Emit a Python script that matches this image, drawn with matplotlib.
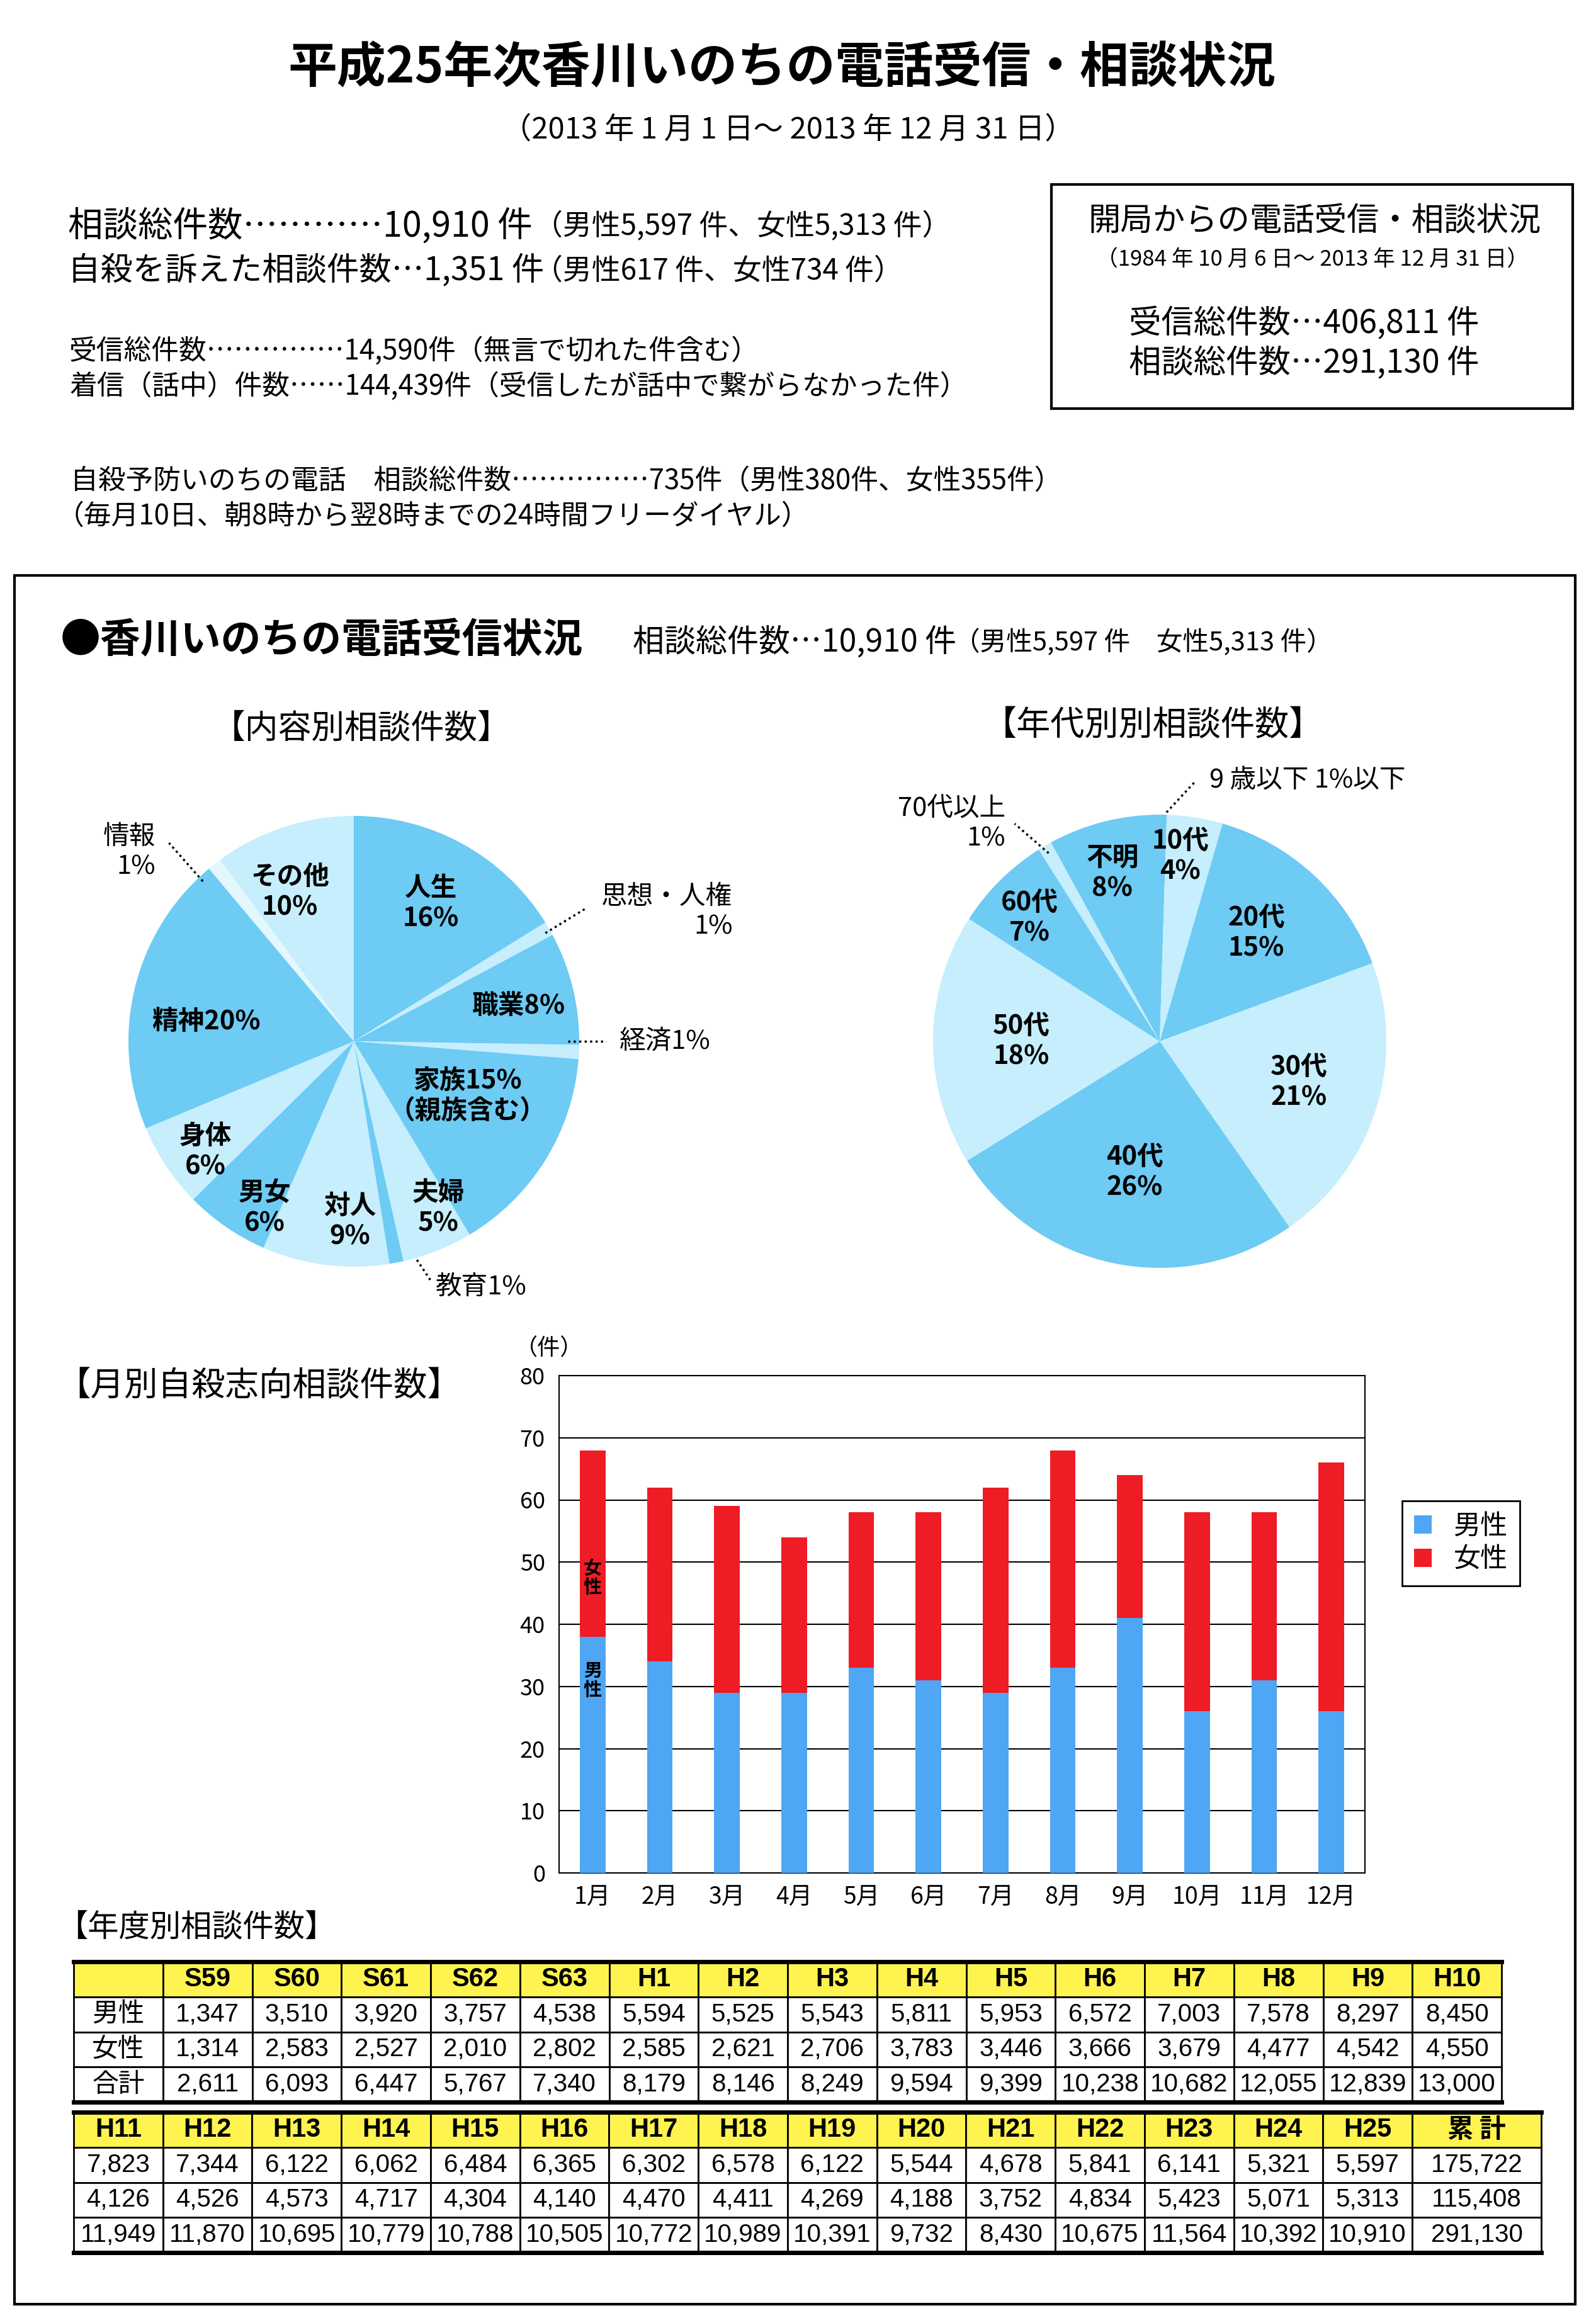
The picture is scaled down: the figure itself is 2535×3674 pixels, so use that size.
import matplotlib
matplotlib.use("Agg")
import matplotlib.pyplot as plt
import numpy as np
from matplotlib import font_manager
from matplotlib.patches import Rectangle
from matplotlib.lines import Line2D

# 画像サイズ（ピクセル）
W, H = 2535, 3674

# 日本語フォント
JP = ["Noto Sans CJK JP", "DejaVu Sans"]
plt.rcParams["font.family"] = JP
_names = {f.name for f in font_manager.fontManager.ttflist}
NARROW = ["Liberation Sans Narrow" if "Liberation Sans Narrow" in _names else "Liberation Sans"] + JP
ARIAL = ["Liberation Sans"] + JP

# ---- データ ----
# 内容別相談件数（％）
content_labels = ["人生", "思想・人権", "職業", "経済", "家族", "夫婦", "教育",
                  "対人", "男女", "身体", "精神", "情報", "その他"]
content_pct = [16, 1, 8, 1, 15, 5, 1, 9, 6, 6, 20, 1, 10]
content_texts = ["人生\n16%", "思想・人権\n1%", "職業8%", "経済1%", "家族15%\n（親族含む）",
                 "夫婦\n5%", "教育1%", "対人\n9%", "男女\n6%", "身体\n6%", "精神20%",
                 "情報\n1%", "その他\n10%"]

# 年代別相談件数（％）
age_labels = ["9歳以下", "10代", "20代", "30代", "40代", "50代", "60代", "70代以上", "不明"]
age_pct = [0.5, 4, 15, 21, 26, 18, 7, 1, 8]
age_texts = ["9 歳以下 1%以下", "10代\n4%", "20代\n15%", "30代\n21%", "40代\n26%",
             "50代\n18%", "60代\n7%", "70代以上\n1%", "不明\n8%"]

# 月別自殺志向相談件数
months = ["1月", "2月", "3月", "4月", "5月", "6月", "7月", "8月", "9月", "10月", "11月", "12月"]
male_month = [38, 34, 29, 29, 33, 31, 29, 33, 41, 26, 31, 26]
female_month = [30, 28, 30, 25, 25, 27, 33, 35, 23, 32, 27, 40]

# 年度別相談件数
years_1 = ["S59", "S60", "S61", "S62", "S63", "H1", "H2", "H3", "H4", "H5",
           "H6", "H7", "H8", "H9", "H10"]
male_1 = [1347, 3510, 3920, 3757, 4538, 5594, 5525, 5543, 5811, 5953, 6572, 7003, 7578, 8297, 8450]
female_1 = [1314, 2583, 2527, 2010, 2802, 2585, 2621, 2706, 3783, 3446, 3666, 3679, 4477, 4542, 4550]
total_1 = [2611, 6093, 6447, 5767, 7340, 8179, 8146, 8249, 9594, 9399, 10238, 10682, 12055, 12839, 13000]

years_2 = ["H11", "H12", "H13", "H14", "H15", "H16", "H17", "H18", "H19", "H20",
           "H21", "H22", "H23", "H24", "H25", "累 計"]
male_2 = [7823, 7344, 6122, 6062, 6484, 6365, 6302, 6578, 6122, 5544, 4678, 5841, 6141, 5321, 5597, 175722]
female_2 = [4126, 4526, 4573, 4717, 4304, 4140, 4470, 4411, 4269, 4188, 3752, 4834, 5423, 5071, 5313, 115408]
total_2 = [11949, 11870, 10695, 10779, 10788, 10505, 10772, 10989, 10391, 9732, 8430, 10675, 11564, 10392, 10910, 291130]

# 色
MID = "#6DCBF4"
LIGHT = "#C6EEFC"
PALE = "#E2F7FE"
BLUE = "#4EA6F4"
RED = "#EE1C25"
YELLOW = "#FFF44F"


def fx(x):
    return x / W


def fy(y):
    return 1 - y / H


def add_axes_px(fig, left, top, width, height):
    return fig.add_axes([left / W, 1 - (top + height) / H, width / W, height / H])


def text(fig, x, y, s, size, **kw):
    kw.setdefault("va", "center")
    kw.setdefault("ha", "left")
    fig.text(fx(x), fy(y), s, fontsize=size, **kw)


def frame(fig, left, top, right, bottom, lw):
    fig.add_artist(Rectangle((fx(left), fy(bottom)), (right - left) / W, (bottom - top) / H,
                             transform=fig.transFigure, fill=False, lw=lw, ec="black"))


def draw_pie(fig, cx, cy, r, values, colors, texts, inner, outer):
    ax = add_axes_px(fig, cx - r, cy - r, 2 * r, 2 * r)
    wedges, _ = ax.pie(values, colors=colors, startangle=90, counterclock=False,
                       radius=1, wedgeprops=dict(linewidth=0))
    ax.set_xlim(-1, 1)
    ax.set_ylim(-1, 1)
    ax.axis("off")
    for i, w in enumerate(wedges):
        mid = np.deg2rad((w.theta1 + w.theta2) / 2)
        if i in inner:
            rr, dth = inner[i]
            a = mid + np.deg2rad(dth)
            ax.text(rr * np.cos(a), rr * np.sin(a), texts[i], ha="center", va="center",
                    fontsize=30, fontweight="bold", linespacing=1.2)
        else:
            (x0, y0), (x1, y1), (tx, ty), ha = outer[i]
            ax.add_line(Line2D([x0, x1], [y0, y1], ls=(0, (1, 1.5)), lw=2.5, color="black",
                               clip_on=False))
            ax.text(tx, ty, texts[i], ha=ha, va="center", fontsize=30,
                    linespacing=1.2, multialignment="right" if ha == "right" else "left")
    return ax


def draw_table(fig, left, top, width, height, header, rows, widths, label_col):
    ax = add_axes_px(fig, left, top, width, height)
    ax.axis("off")
    tab = ax.table(cellText=rows, colLabels=header, colWidths=widths,
                   bbox=[0, 0, 1, 1], cellLoc="center")
    tab.auto_set_font_size(False)
    for (r, c), cell in tab.get_celld().items():
        cell.set_linewidth(2)
        cell.set_edgecolor("black")
        t = cell.get_text()
        if r == 0:
            cell.set_facecolor(YELLOW)
            t.set_fontsize(30)
            t.set_fontweight("bold")
            t.set_fontfamily(ARIAL if header[c].isascii() else JP)
        elif label_col and c == 0:
            t.set_fontsize(30)
            t.set_fontfamily(JP)
        else:
            t.set_fontsize(29)
            t.set_fontfamily(NARROW)
    ax.axhline(1, color="black", lw=5, clip_on=False)
    ax.axhline(0, color="black", lw=5, clip_on=False)


fig = plt.figure(figsize=(W / 100, H / 100), dpi=100)
fig.patch.set_facecolor("white")

# ---- ヘッダー ----
text(fig, 1242, 108, "平成25年次香川いのちの電話受信・相談状況", 56, ha="center", fontweight="bold")
text(fig, 1252, 206, "（2013 年 1 月 1 日～ 2013 年 12 月 31 日）", 34, ha="center")

text(fig, 108, 360, "相談総件数…………10,910 件", 40)
text(fig, 848, 360, "（男性5,597 件、女性5,313 件）", 33)
text(fig, 108, 430, "自殺を訴えた相談件数…1,351 件", 37)
text(fig, 848, 430, "（男性617 件、女性734 件）", 33)

text(fig, 110, 558, "受信総件数……………14,590件（無言で切れた件含む）", 31.5)
text(fig, 110, 614, "着信（話中）件数……144,439件（受信したが話中で繋がらなかった件）", 31.5)
text(fig, 112, 764, "自殺予防いのちの電話　相談総件数……………735件（男性380件、女性355件）", 31.5)
text(fig, 90, 820, "（毎月10日、朝8時から翌8時までの24時間フリーダイヤル）", 31.5)

frame(fig, 1670, 293, 2498, 649, 3)
text(fig, 2088, 352, "開局からの電話受信・相談状況", 37, ha="center")
text(fig, 2085, 413, "（1984 年 10 月 6 日～ 2013 年 12 月 31 日）", 25, ha="center")
text(fig, 1793, 514, "受信総件数…406,811 件", 37)
text(fig, 1793, 577, "相談総件数…291,130 件", 37)

# ---- 受信状況の枠 ----
frame(fig, 23, 914, 2502, 3660, 3)
text(fig, 96, 1017, "●香川いのちの電話受信状況", 46, fontweight="bold")
text(fig, 1005, 1021, "相談総件数…10,910 件", 36)
text(fig, 1515, 1021, "（男性5,597 件　女性5,313 件）", 30)

text(fig, 574, 1157, "【内容別相談件数】", 38, ha="center")
text(fig, 1832, 1153, "【年代別別相談件数】", 39, ha="center")

pie1_colors = [MID, LIGHT, MID, LIGHT, MID, LIGHT, MID, LIGHT, MID, LIGHT, MID, PALE, LIGHT]
pie1_inner = {0: (0.70, 0), 2: (0.75, -1.5), 4: (0.56, 6), 5: (0.83, 5), 7: (0.80, 6),
              8: (0.84, 6.5), 9: (0.82, 3), 10: (0.66, 6), 12: (0.72, 5)}
pie1_outer = {
    1: ((0.85, 0.48), (1.03, 0.59), (1.68, 0.575), "right"),
    3: ((0.95, 0.0), (1.12, 0.0), (1.18, 0.0), "left"),
    6: ((0.28, -0.97), (0.34, -1.06), (0.36, -1.09), "left"),
    11: ((-0.67, 0.71), (-0.82, 0.88), (-0.88, 0.84), "right"),
}
draw_pie(fig, 562, 1654, 358, content_pct, pie1_colors, content_texts, pie1_inner, pie1_outer)

pie2_colors = [MID, LIGHT, MID, LIGHT, MID, LIGHT, MID, LIGHT, MID]
pie2_inner = {1: (0.82, 2.6), 2: (0.64, 1.2), 3: (0.64, 1), 4: (0.59, 0.8), 5: (0.61, 0.6),
              6: (0.79, 1.8), 8: (0.77, 1.4)}
pie2_outer = {
    0: ((0.03, 1.01), (0.16, 1.15), (0.22, 1.15), "left"),
    7: ((-0.49, 0.83), (-0.64, 0.96), (-0.68, 0.96), "right"),
}
draw_pie(fig, 1842, 1654, 360, age_pct, pie2_colors, age_texts, pie2_inner, pie2_outer)

# ---- 月別自殺志向相談件数 ----
text(fig, 90, 2202, "【月別自殺志向相談件数】", 38.5)
text(fig, 872, 2143, "（件）", 26, ha="center")

ax = add_axes_px(fig, 888, 2185, 1280, 790)
x = np.arange(len(months))
ax.bar(x, male_month, width=0.38, color=BLUE, label="男性", zorder=3)
ax.bar(x, female_month, width=0.38, bottom=male_month, color=RED, label="女性", zorder=3)
ax.set_xlim(-0.5, len(months) - 0.5)
ax.set_ylim(0, 80)
ax.set_yticks(range(0, 81, 10))
ax.set_xticks(x)
ax.set_xticklabels(months, fontsize=27)
ax.tick_params(axis="y", length=0, labelsize=26, pad=16)
ax.tick_params(axis="x", length=0, pad=14)
ax.grid(axis="y", color="black", lw=1.5, zorder=0)
for s in ax.spines.values():
    s.set_color("black")
    s.set_linewidth(1.5)
ax.text(0, 47.5, "女\n性", ha="center", va="center", fontsize=21, fontweight="bold", linespacing=1.0, zorder=4)
ax.text(0, 31, "男\n性", ha="center", va="center", fontsize=21, fontweight="bold", linespacing=1.0, zorder=4)
ax.legend(loc="upper left", bbox_to_anchor=(fx(2205), fy(2362)), bbox_transform=fig.transFigure,
          fontsize=31, fancybox=False, edgecolor="black", framealpha=1, handlelength=0.65,
          handleheight=0.65, handletextpad=0.8, borderpad=0.45, labelspacing=0.2
          ).get_frame().set_linewidth(2)

# ---- 年度別相談件数 ----
text(fig, 90, 3062, "【年度別相談件数】", 35.5)

rows_1 = [["男性"] + [f"{v:,}" for v in male_1],
          ["女性"] + [f"{v:,}" for v in female_1],
          ["合計"] + [f"{v:,}" for v in total_1]]
draw_table(fig, 117, 3116, 2268, 223, [""] + years_1, rows_1, [1] * 16, True)

rows_2 = [[f"{v:,}" for v in male_2],
          [f"{v:,}" for v in female_2],
          [f"{v:,}" for v in total_2]]
draw_table(fig, 117, 3355, 2331, 223, years_2, rows_2, [141.75] * 15 + [205], False)

fig.savefig("out.png", dpi=100)
